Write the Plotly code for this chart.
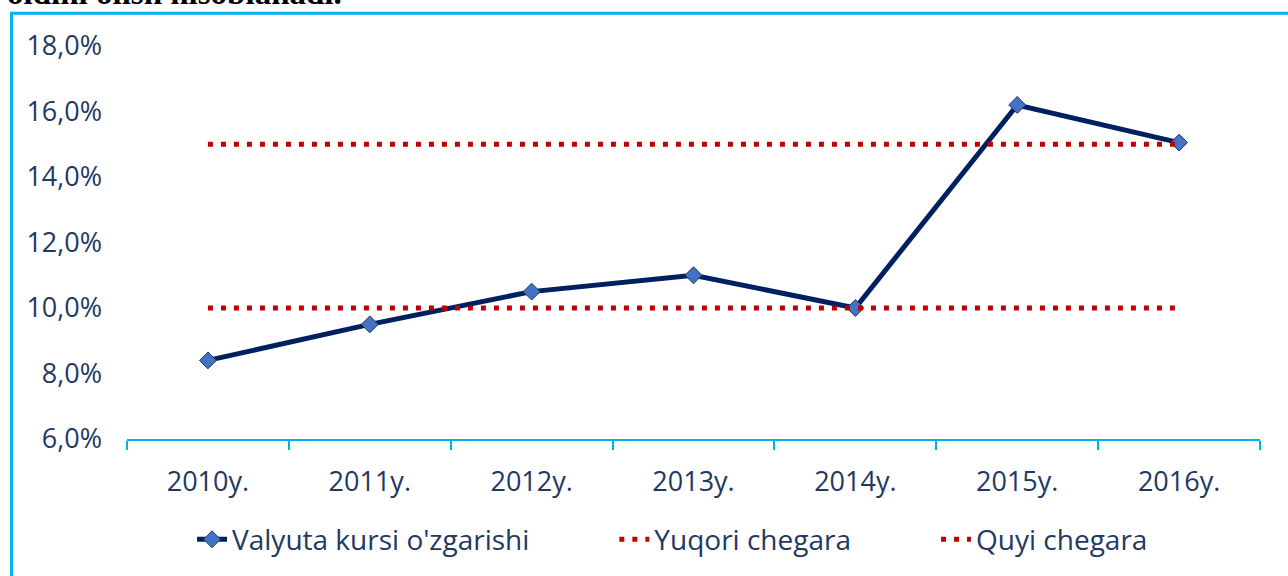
import plotly.graph_objects as go

years = ["2010y.", "2011y.", "2012y.", "2013y.", "2014y.", "2015y.", "2016y."]
valyuta = [8.4, 9.5, 10.5, 11.0, 10.0, 16.2, 15.05]
yuqori = [15.0, 15.0, 15.0, 15.0, 15.0, 15.0, 15.0]
quyi = [10.0, 10.0, 10.0, 10.0, 10.0, 10.0, 10.0]
y_ticks = [6, 8, 10, 12, 14, 16, 18]
y_labels = ["6,0%", "8,0%", "10,0%", "12,0%", "14,0%", "16,0%", "18,0%"]
series_names = ["Valyuta kursi o'zgarishi", "Yuqori chegara", "Quyi chegara"]

navy_text = "#1F3864"
font_family = "Open Sans, Noto Sans, sans-serif"
pad = "\u00a0" * 11

fig = go.Figure()
fig.add_trace(go.Scatter(
    x=years, y=valyuta, name=series_names[0] + pad, mode="lines+markers",
    line=dict(color="#002060", width=5),
    marker=dict(symbol="diamond", size=13, color="#4472C4", line=dict(color="#1F3864", width=1)),
))
fig.add_trace(go.Scatter(
    x=years, y=yuqori, name=series_names[1] + pad, mode="lines",
    line=dict(color="#C00000", width=5, dash="5px,8px"),
))
fig.add_trace(go.Scatter(
    x=years, y=quyi, name=series_names[2], mode="lines",
    line=dict(color="#C00000", width=5, dash="5px,8px"),
))

fig.update_layout(
    width=1288, height=576,
    margin=dict(l=127, r=28, t=46, b=135),
    paper_bgcolor="white", plot_bgcolor="white",
    font=dict(family=font_family, size=27, color=navy_text),
    showlegend=True,
    legend=dict(orientation="h", x=0.0574, xanchor="left", y=-0.256, yanchor="middle",
                font=dict(size=28, color=navy_text), bgcolor="rgba(0,0,0,0)"),
    shapes=[dict(type="rect", xref="paper", yref="paper",
                 x0=-0.1019, x1=1.2, y0=-0.5, y1=1.0835,
                 line=dict(color="#00B0F0", width=3), fillcolor="rgba(0,0,0,0)", layer="below")],
    annotations=[dict(text="<b>oldini olish hisoblanadi.</b>", xref="paper", yref="paper",
                      x=-0.1077, y=1.0835, xanchor="left", yanchor="bottom", showarrow=False,
                      font=dict(family="Liberation Serif, serif", size=33, color="black"))],
)
fig.update_xaxes(
    type="category", range=[-0.5, 6.5], showgrid=False, showline=True,
    linecolor="#00B0F0", linewidth=2,
    ticks="outside", tickson="boundaries", ticklen=9, tickwidth=2, tickcolor="#00B0F0",
    tickfont=dict(size=27, color=navy_text), ticklabelstandoff=18, zeroline=False,
)
fig.update_yaxes(
    range=[6, 18], tickvals=y_ticks, ticktext=y_labels, showgrid=False, showline=False,
    zeroline=False, ticks="", tickfont=dict(size=27, color=navy_text), ticklabelstandoff=24,
)

fig.write_html("out.html", config={"displayModeBar": False},
               post_script="document.body.style.margin='0px';")
